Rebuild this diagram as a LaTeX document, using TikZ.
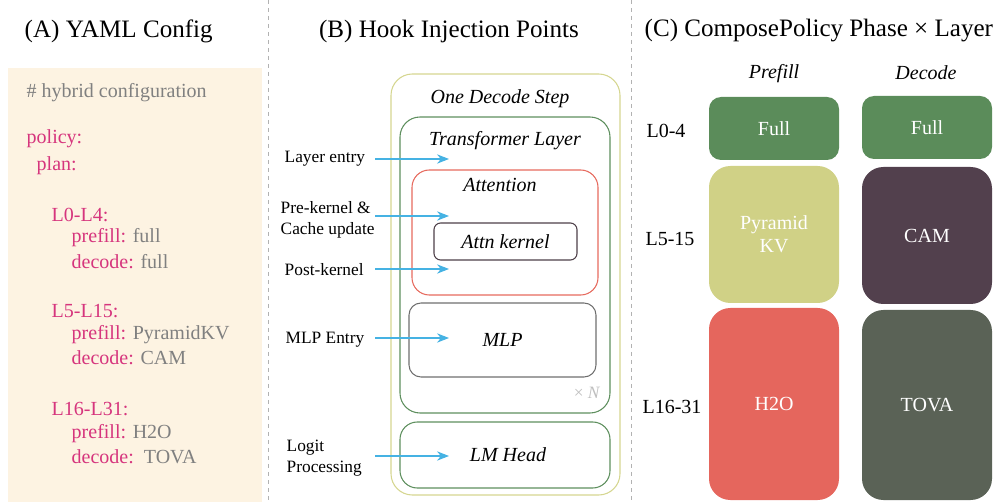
\documentclass[tikz,border=0pt]{standalone}
\usepackage{fontspec}
\setmainfont{Liberation Serif}
\usetikzlibrary{arrows.meta,fit}
\definecolor{cream}{HTML}{FDF3E2}
\definecolor{yamlpink}{HTML}{D6357D}
\definecolor{yamlgray}{HTML}{808080}
\definecolor{stepline}{HTML}{D5D690}
\definecolor{layerline}{HTML}{5E8F5E}
\definecolor{attnline}{HTML}{E66A5E}
\definecolor{kernline}{HTML}{4D3F48}
\definecolor{mlpline}{HTML}{6E6E6E}
\definecolor{hookblue}{HTML}{45B2E3}
\definecolor{fullgreen}{HTML}{5B8C5A}
\definecolor{pyrayellow}{HTML}{D0D186}
\definecolor{campurple}{HTML}{52404D}
\definecolor{hred}{HTML}{E5665D}
\definecolor{tovagray}{HTML}{5A6256}

\begin{document}
\begin{tikzpicture}[x=0.75pt,y=-0.75pt,
    paneltitle/.style={font=\fontsize{18.8}{22}\selectfont},
    yaml/.style={anchor=west,text=yamlpink,font=\fontsize{15}{18}\selectfont},
    hooklabel/.style={anchor=west,align=left,font=\fontsize{13}{16}\selectfont},
    boxlabel/.style={font=\fontsize{15}{18}\selectfont\itshape},
    frame/.style={draw,line width=0.8pt,inner sep=0pt},
    hook/.style={draw=hookblue,line width=0.8pt,-{Stealth[length=9pt,width=7pt]}},
    cell/.style={inner sep=0pt},
    celltext/.style={text=white,align=center,font=\fontsize{15}{17}\selectfont},
    rowlabel/.style={font=\fontsize{15}{18}\selectfont}]
    \useasboundingbox (0,0) rectangle (1004,502);

    % panel separators
    \draw[gray!60,dashed,line width=0.6pt] (268,0) -- (268,502);
    \draw[gray!60,dashed,line width=0.6pt] (631,0) -- (631,502);

    % (A) YAML config
    \node[paneltitle,anchor=west] (titleA) at (20,31) {(A) YAML Config};
    \fill[cream] (8,68) rectangle (262,502);
    \node[yaml,text=yamlgray] (comment) at (22,93) {\# hybrid configuration};
    \node[yaml] (policy) at (22,139) {policy:};
    \node[yaml] (plan) at (32,166) {plan:};
    \node[yaml] (g1) at (47,215) {L0-L4:};
    \node[yaml] (g1p) at (67,238) {prefill: \textcolor{yamlgray}{full}};
    \node[yaml] (g1d) at (67,262) {decode: \textcolor{yamlgray}{full}};
    \node[yaml] (g2) at (47,311) {L5-L15:};
    \node[yaml] (g2p) at (67,335) {prefill: \textcolor{yamlgray}{PyramidKV}};
    \node[yaml] (g2d) at (67,358) {decode: \textcolor{yamlgray}{CAM}};
    \node[yaml] (g3) at (47,409) {L16-L31:};
    \node[yaml] (g3p) at (67,434) {prefill: \textcolor{yamlgray}{H2O}};
    \node[yaml] (g3d) at (67,457) {decode:~~\textcolor{yamlgray}{TOVA}};

    % (B) hook injection points
    \node[paneltitle] (titleB) at (449,31) {(B) Hook Injection Points};
    \node[frame,draw=stepline,rounded corners=16pt,fit={(391,74) (620,495)}] (step) {};
    \node[boxlabel] (steplabel) at (500,99) {One Decode Step};
    \node[frame,draw=layerline,rounded corners=15pt,fit={(400,117) (610,413)}] (layer) {};
    \node[boxlabel] (layerlabel) at (505,141) {Transformer Layer};
    \node[frame,draw=attnline,rounded corners=13pt,fit={(412,170) (598,295)}] (attn) {};
    \node[boxlabel] (attnlabel) at (500,185) {Attention};
    \node[frame,draw=kernline,rounded corners=5pt,fit={(434,223) (577,260)}] (kernel) {};
    \node[boxlabel] (kernellabel) at (kernel.center) {Attn kernel};
    \node[frame,draw=mlpline,rounded corners=9pt,fit={(409,303) (596,377)}] (mlp) {};
    \node[boxlabel] (mlplabel) at (mlp.center) {MLP};
    \node[text=gray!50,font=\fontsize{13}{16}\selectfont] (times) at (587,393) {× \textit{N}};
    \node[frame,draw=layerline,rounded corners=13pt,fit={(400,422) (610,488)}] (lmhead) {};
    \node[boxlabel] (lmlabel) at (508,455) {LM Head};

    \node[hooklabel] (hentry) at (280,159) {Layer entry};
    \node[hooklabel] (hpre) at (276,220) {Pre-kernel \&\\Cache update};
    \node[hooklabel] (hpost) at (280,270) {Post-kernel};
    \node[hooklabel] (hmlp) at (281,340) {MLP Entry};
    \node[hooklabel] (hlogit) at (282,458) {Logit\\Processing};
    \foreach \y/\n in {159/entry,216/pre,269/post,338/mlp,456/logit} {
        \coordinate (\n-a) at (375,\y);
        \coordinate (\n-b) at (449,\y);
        \draw[hook] (\n-a) -- (\n-b);
    }

    % (C) compose policy
    \node[paneltitle,anchor=west] (titleC) at (640,31) {(C) ComposePolicy Phase × Layer};
    \node[boxlabel] (prefill) at (774,74) {Prefill};
    \node[boxlabel] (decode) at (926,73) {Decode};
    \node[rowlabel] (r1) at (666,131) {L0-4};
    \node[rowlabel] (r2) at (670,239) {L5-15};
    \node[rowlabel] (r3) at (672,407) {L16-31};
    \node[cell,fill=fullgreen,rounded corners=9pt,fit={(709,97) (839,160)}] (p1) {};
    \node[cell,fill=fullgreen,rounded corners=9pt,fit={(862,96) (992,159)}] (d1) {};
    \node[cell,fill=pyrayellow,rounded corners=16pt,fit={(709,166) (839,303)}] (p2) {};
    \node[cell,fill=campurple,rounded corners=16pt,fit={(862,167) (992,304)}] (d2) {};
    \node[cell,fill=hred,rounded corners=16pt,fit={(709,308) (839,500)}] (p3) {};
    \node[cell,fill=tovagray,rounded corners=16pt,fit={(862,310) (992,500)}] (d3) {};
    \foreach \c/\t in {p1/Full,d1/Full,p2/{Pyramid\\KV},d2/CAM,p3/H2O,d3/TOVA}
        \node[celltext] (\c-text) at (\c.center) {\t};
\end{tikzpicture}
\end{document}
